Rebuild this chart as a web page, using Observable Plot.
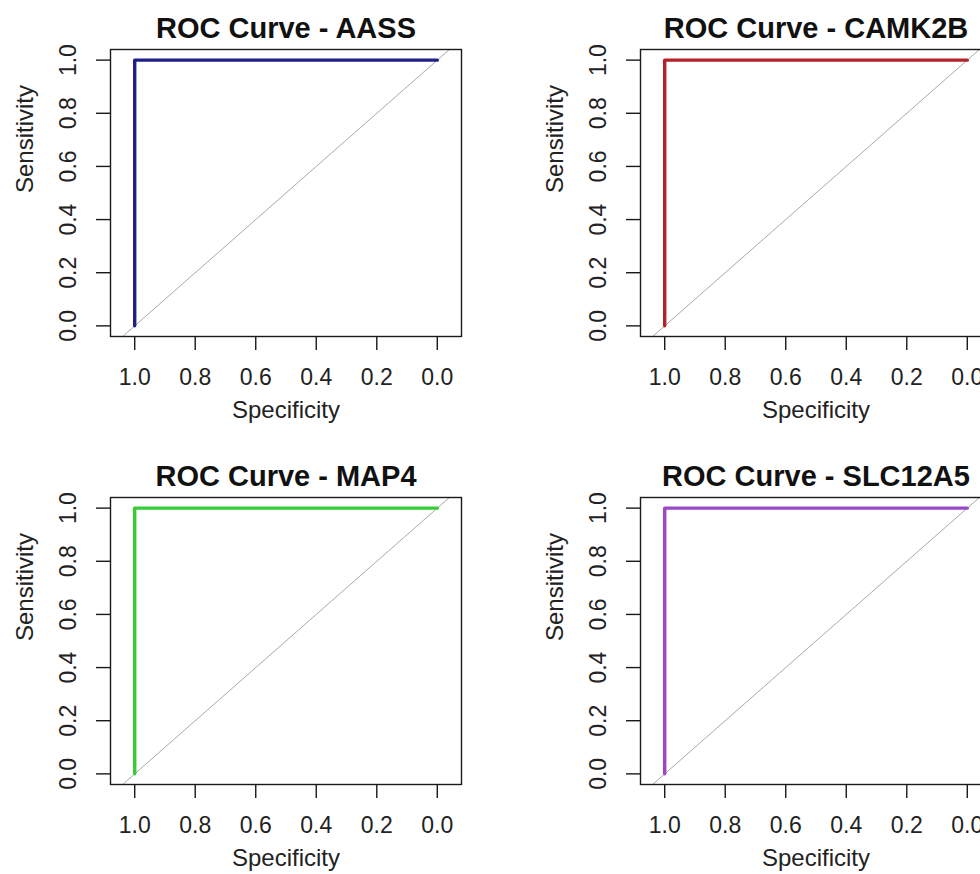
<!DOCTYPE html>
<html>
<head>
<meta charset="utf-8">
<script src="https://cdn.jsdelivr.net/npm/d3@7"></script>
<script src="https://cdn.jsdelivr.net/npm/@observablehq/plot@0.6"></script>
<style>
  html, body { margin: 0; padding: 0; background: #fff; }
  #wrap { position: relative; width: 980px; height: 874px; overflow: hidden; background: #fff; }
  .panel { position: absolute; width: 490px; height: 430px; }
  .panel svg { display: block; max-width: none !important; width: 490px; height: 430px; }
</style>
</head>
<body>
<div id="wrap"></div>
<script>
// ---- data ----
const genes = ["AASS", "CAMK2B", "MAP4", "SLC12A5"];
const curveColors = ["#1f1f88", "#b22228", "#35cc35", "#9a48c8"];
const titles = ["ROC Curve - AASS", "ROC Curve - CAMK2B", "ROC Curve - MAP4", "ROC Curve - SLC12A5"];

// ROC points (specificity, sensitivity)
const aassSpecificity    = [1, 1, 0];
const aassSensitivity    = [0, 1, 1];
const camk2bSpecificity  = [1, 1, 0];
const camk2bSensitivity  = [0, 1, 1];
const map4Specificity    = [1, 1, 0];
const map4Sensitivity    = [0, 1, 1];
const slc12a5Specificity = [1, 1, 0];
const slc12a5Sensitivity = [0, 1, 1];

// chance diagonal (sensitivity = 1 - specificity), clipped to the box
const chanceSpecificity = [1.2, -0.2];
const chanceSensitivity = [-0.2, 1.2];

const xTicks = [1.0, 0.8, 0.6, 0.4, 0.2, 0.0];
const yTicks = [0.0, 0.2, 0.4, 0.6, 0.8, 1.0];
const xLabel = "Specificity";
const yLabel = "Sensitivity";

const specs = [aassSpecificity, camk2bSpecificity, map4Specificity, slc12a5Specificity];
const sens  = [aassSensitivity, camk2bSensitivity, map4Sensitivity, slc12a5Sensitivity];

// ---- layout ----
const positions = [[0, 0], [530, 0], [0, 448], [530, 448]];
const fmt = d3.format(".1f");
const font = "'Liberation Sans', Arial, Helvetica, sans-serif";
const wrap = document.getElementById("wrap");

genes.forEach((g, i) => {
  const curve = specs[i].map((s, j) => ({spec: s, sens: sens[i][j]}));
  const diag = chanceSpecificity.map((s, j) => ({spec: s, sens: chanceSensitivity[j]}));
  const chart = Plot.plot({
    width: 490,
    height: 430,
    marginLeft: 110,
    marginRight: 29,
    marginTop: 49,
    marginBottom: 94,
    x: {domain: [1.08, -0.08]},
    y: {domain: [-0.04, 1.04]},
    style: {fontFamily: font, background: "transparent", color: "#1a1a1a", overflow: "visible", maxWidth: "none"},
    marks: [
      Plot.line(diag, {x: "spec", y: "sens", stroke: "#a9a9a9", strokeWidth: 1, clip: true}),
      Plot.line(curve, {x: "spec", y: "sens", stroke: curveColors[i], strokeWidth: 3.4}),
      Plot.frame({stroke: "#1a1a1a", strokeWidth: 1.4}),
      Plot.axisX(xTicks, {tickSize: 14, tickPadding: 18, tickFormat: fmt, fontSize: 23, label: null, strokeWidth: 1.4, fill: "#222"}),
      Plot.axisY(yTicks, {tickSize: 14, tickPadding: 21, tickRotate: -90, tickFormat: fmt, fontSize: 23, label: null, strokeWidth: 1.4, fill: "#222"}),
      Plot.text([xLabel], {text: d => d, frameAnchor: "bottom", lineAnchor: "top", dy: 64, fontSize: 24, fill: "#222"}),
      Plot.text([yLabel], {text: d => d, frameAnchor: "left", rotate: -90, lineAnchor: "top", dx: -95, fontSize: 24, fill: "#222"}),
      Plot.text([titles[i]], {text: d => d, frameAnchor: "top", lineAnchor: "top", dy: -32, fontSize: 29, fontWeight: "bold", fill: "#111"})
    ]
  });
  const div = document.createElement("div");
  div.className = "panel";
  div.style.left = positions[i][0] + "px";
  div.style.top = positions[i][1] + "px";
  div.appendChild(chart);
  wrap.appendChild(div);
});
</script>
</body>
</html>
